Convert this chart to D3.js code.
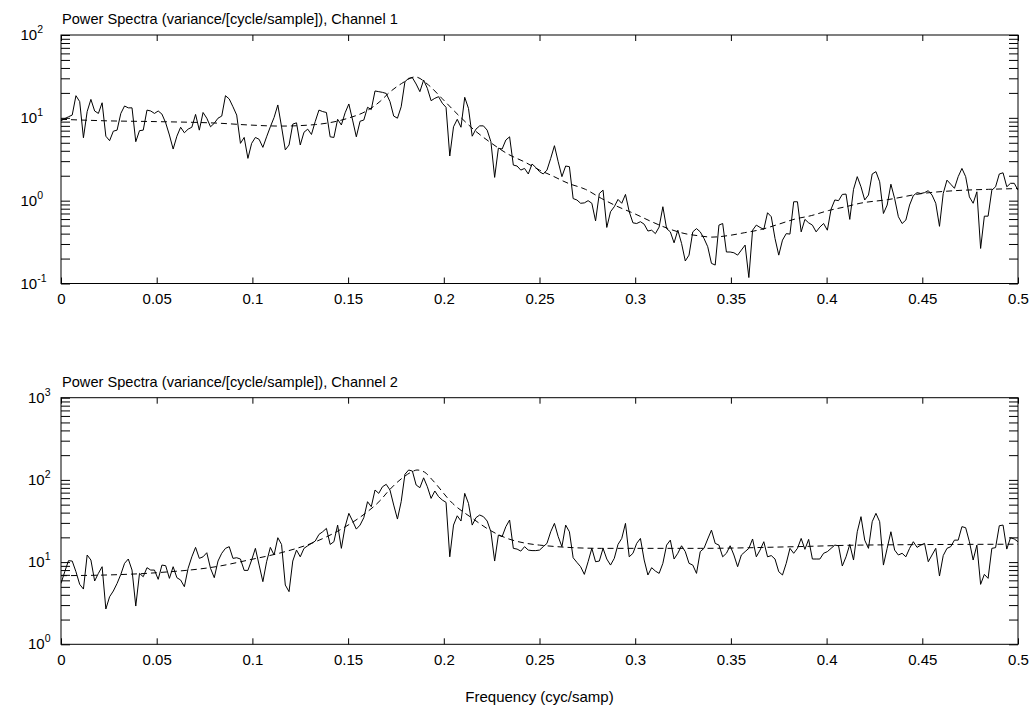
<!DOCTYPE html>
<html><head><meta charset="utf-8">
<script src="https://cdn.jsdelivr.net/npm/d3@7/dist/d3.min.js"></script>
<style>
body{margin:0;background:#fff}
text{font-family:"Liberation Sans",Arial,Helvetica,sans-serif;fill:#000}
</style>
</head><body>
<svg id="chart" width="1036" height="715"></svg>
<script>
// ---------- data ----------
const xTickValues = [0, 0.05, 0.1, 0.15, 0.2, 0.25, 0.3, 0.35, 0.4, 0.45, 0.5];
const xTickLabels = ["0", "0.05", "0.1", "0.15", "0.2", "0.25", "0.3", "0.35", "0.4", "0.45", "0.5"];
const titles = ["Power Spectra (variance/[cycle/sample]), Channel 1",
                "Power Spectra (variance/[cycle/sample]), Channel 2"];
const xLabel = "Frequency (cyc/samp)";
const yExponents1 = [-1, 0, 1, 2];
const yExponents2 = [0, 1, 2, 3];

// Channel 1 periodogram (257 bins, 0 .. 0.5 cyc/samp)
const psd1 = [
 9.23, 9.77, 10.3, 10.8, 18.5, 15.7, 5.75, 11.9, 16.7, 12.1, 11.3, 15.2, 6.0, 5.3, 6.9, 7.1, 11.3, 13.9, 13.2, 13.2,
 5.15, 7.0, 7.1, 12.4, 12.1, 11.3, 12.1, 11.1, 8.7, 6.2, 4.2, 6.0, 7.7, 6.6, 7.3, 7.7, 11.0, 7.1, 11.6, 9.9, 7.8, 8.6, 9.9,
 10.5, 18.5, 16.9, 13.6, 10.8, 4.92, 5.8, 3.24, 4.92, 5.8, 5.5, 4.4, 5.9, 7.8, 10.1, 14.3, 7.8, 4.1, 4.7, 8.4, 8.7,
 4.7, 6.7, 7.3, 6.3, 9.0, 12.4, 11.9, 11.6, 5.9, 5.8, 9.6, 8.2, 11.5, 14.7, 9.4, 5.9, 9.1, 9.4, 13.4, 12.6, 21.1, 20.7,
 20.3, 19.7, 15.7, 10.5, 9.9, 13.6, 27.3, 30.0, 30.5, 25.6, 20.7, 28.6, 22.7, 16.1, 17.2, 18.0, 15.0, 13.4, 3.46, 7.8,
 9.6, 7.7, 17.7, 13.0, 6.0, 7.3, 8.0, 8.0, 7.1, 5.15, 1.91, 4.3, 4.2, 5.4, 5.9, 2.69, 2.62, 2.34, 2.45, 2.10, 2.77, 2.52, 2.24,
 2.10, 2.34, 3.24, 4.61, 2.95, 1.95, 2.62, 2.57, 1.06, 1.02, 0.93, 0.94, 1.0, 0.93, 0.57, 1.22, 1.34, 0.475, 0.735, 0.845,
 1.035, 0.93, 1.19, 0.735, 0.54, 0.53, 0.557, 0.52, 0.43, 0.44, 0.40, 0.48, 0.845, 0.46, 0.42, 0.31, 0.44, 0.305, 0.187, 0.22, 0.42, 0.46,
 0.42, 0.35, 0.278, 0.175, 0.167, 0.507, 0.53, 0.24, 0.24, 0.235, 0.22, 0.253, 0.291, 0.118, 0.44, 0.507, 0.475, 0.45, 0.715, 0.64,
 0.35, 0.22, 0.334, 0.40, 0.395, 0.97, 0.97, 0.42, 0.594, 0.54, 0.507, 0.42, 0.48, 0.53, 0.44, 0.79, 1.02, 1.0, 1.19, 1.2, 0.594, 1.37, 1.95,
 1.47,
 1.02, 1.17, 2.10, 2.24, 1.69, 0.70, 0.885, 1.58, 1.06, 0.64, 0.53, 0.583, 0.885, 1.15, 1.25, 1.22, 1.25, 1.32, 1.17, 0.93,
 0.49, 1.22, 1.77, 1.58, 1.41, 1.95, 2.45, 1.95, 1.11, 0.93, 1.28, 0.265, 0.65, 0.65, 1.34, 1.47, 2.10, 2.17, 1.47, 1.62, 1.62, 1.34
];

// Channel 2 periodogram (257 bins)
const psd2 = [
 5.5, 7.64, 10.4, 10.3, 7.64, 5.36, 4.70, 12.2, 10.6, 5.89, 7.29, 8.79, 2.69, 3.79, 4.45, 5.5, 7.09, 9.66, 10.9, 8.0,
 2.92, 7.29, 6.64, 8.55, 8.0, 8.0, 6.17, 9.2, 9.04, 6.34, 8.79, 6.46, 6.05, 5.02, 8.39, 11.6, 15.1, 11.1, 11.6, 13.0, 8.39, 6.46, 10.3,
 12.8, 14.7, 15.4, 11.1, 11.3, 10.9, 7.93, 7.93, 10.6, 14.7, 9.2, 5.78, 10.1, 15.1, 12.2, 19.8, 16.4, 5.26, 4.37, 10.3,
 14.0, 11.6, 14.7, 15.8, 16.9, 18.0, 21.7, 23.4, 25.7, 16.4, 17.7, 28.2, 14.7, 27.0, 39.2, 31.6, 25.2, 28.2, 34.7, 54.3, 47.2, 75.3, 68.6,
 82.6, 88.3, 75.3, 49.4, 33.4, 54.3, 117, 132, 128, 86.7, 80.4, 106, 82.6, 59.6, 73.3, 62.5, 56.9, 53.3, 11.6, 28.2,
 36.6, 31.6, 68.6, 51.8, 28.2, 34.7, 37.4, 35.7, 31.6, 23.4, 10.3, 21.3, 20.4, 27.0, 32.5, 14.7, 14.4, 13.6, 15.4, 14.0, 13.8, 13.8, 14.0,
 15.4, 16.9, 23.4, 29.6, 20.4, 15.4, 28.2, 23.4, 11.3, 9.93, 8.79, 7.09, 10.1, 14.7, 10.1, 10.3, 14.7, 10.9, 9.2, 11.1,
 16.4, 19.4, 29.6, 11.6, 12.8, 16.9, 19.4, 10.6, 6.97, 8.55, 7.78, 7.29, 9.66, 16.1, 18.5, 10.9, 12.8, 15.8, 13.4, 9.66, 9.2, 7.29,
 13.4, 14.7, 19.1, 24.5, 16.9, 16.1, 11.6, 12.8, 15.8, 12.2, 8.79, 12.2, 13.4, 14.7, 19.1, 11.6, 14.0, 17.7, 11.6, 12.0,
 10.9, 7.64, 6.97, 9.66, 14.7, 12.8, 14.7, 19.4, 14.3, 18.9, 10.9, 10.9, 10.9, 12.8, 13.4, 14.7, 16.1, 15.8, 8.96, 11.6, 16.4, 10.6, 23.4,
 35.7,
 18.5, 14.7, 31.0, 39.2, 31.0, 9.2, 14.7, 23.4, 14.0, 12.2, 12.8, 11.6, 14.7, 17.7, 15.1, 16.1, 16.9, 10.1, 12.2, 14.7,
 6.77, 12.0, 14.7, 15.4, 18.5, 18.5, 27.0, 26.2, 17.7, 10.6, 16.1, 5.36, 7.09, 6.34, 14.7, 15.0, 27.7, 28.2, 14.4, 19.8, 19.1, 17.7
];

// Smooth (model) spectra, dashed
const fitFreq1 = [0, 0.024, 0.05, 0.083, 0.098, 0.115, 0.133, 0.150, 0.159, 0.167, 0.171, 0.178, 0.185, 0.192, 0.199, 0.2076,
  0.216, 0.225, 0.234, 0.242, 0.25, 0.256, 0.265, 0.274, 0.2825, 0.291, 0.30, 0.3086, 0.3173, 0.326, 0.334, 0.34, 0.349,
  0.357, 0.366, 0.375, 0.3835, 0.392, 0.401, 0.41, 0.4175, 0.432, 0.45, 0.467, 0.4845, 0.5];
const fitPsd1 = [9.6, 9.2, 9.0, 8.6, 8.2, 7.95, 8.3, 9.9, 11.9, 16.0, 19.7, 26, 31.2, 24.9, 17.2, 10.8,
  7.1, 4.92, 3.6, 2.95, 2.34, 2.03, 1.62, 1.37, 1.06, 0.845, 0.69, 0.557, 0.46, 0.40, 0.375, 0.363, 0.38,
  0.41, 0.45, 0.52, 0.60, 0.66, 0.76, 0.845, 0.93, 1.03, 1.22, 1.32, 1.37, 1.40];
const fitFreq2 = [0, 0.024, 0.05, 0.083, 0.098, 0.115, 0.133, 0.150, 0.159, 0.167, 0.171, 0.178, 0.1835, 0.186, 0.19, 0.194,
  0.2046, 0.215, 0.224, 0.234, 0.242, 0.25, 0.2825, 0.334, 0.3835, 0.4175, 0.5];
const fitPsd2 = [6.84, 6.97, 7.43, 8.96, 10.6, 13.0, 17.7, 28.2, 39.2, 56.9, 73, 104, 126, 132, 124, 100,
  51.8, 34, 24.5, 19.1, 17.1, 16.1, 14.7, 14.7, 15.4, 16.1, 16.5];

// ---------- drawing ----------
const svg = d3.select("#chart");
svg.append("rect").attr("width", 1036).attr("height", 715).attr("fill", "#fff");

const left = 61, right = 1018;
const x = d3.scaleLinear().domain([0, 0.5]).range([left, right]);

const panels = [
  {top: 35, bottom: 283.5, domain: [0.1, 100], exps: yExponents1, psd: psd1, fitF: fitFreq1, fitV: fitPsd1, title: titles[0], labelX: 20.5},
  {top: 397.7, bottom: 644.3, domain: [1, 1000], exps: yExponents2, psd: psd2, fitF: fitFreq2, fitV: fitPsd2, title: titles[1], labelX: 28}
];

const FS = 15;

panels.forEach((p, k) => {
  const y = d3.scaleLog().domain(p.domain).range([p.bottom, p.top]);
  const g = svg.append("g");

  const cid = "clip" + k;
  svg.append("clipPath").attr("id", cid).append("rect")
    .attr("x", left).attr("y", p.top).attr("width", right - left).attr("height", p.bottom - p.top);

  // axes (inward ticks)
  const xb = g.append("g").attr("transform", `translate(0,${p.bottom})`)
    .call(d3.axisBottom(x).tickValues(xTickValues).tickSizeInner(-6).tickSizeOuter(0).tickPadding(10)
      .tickFormat((d, i) => xTickLabels[i]));
  const xt = g.append("g").attr("transform", `translate(0,${p.top})`)
    .call(d3.axisTop(x).tickValues(xTickValues).tickSizeInner(-6).tickSizeOuter(0).tickFormat(""));
  const yl = g.append("g").attr("transform", `translate(${left},0)`)
    .call(d3.axisLeft(y).tickValues(y.ticks()).tickSizeInner(-9).tickSizeOuter(0).tickFormat(""));
  const yr = g.append("g").attr("transform", `translate(${right},0)`)
    .call(d3.axisRight(y).tickValues(y.ticks()).tickSizeInner(-9).tickSizeOuter(0).tickFormat(""));
  [xb, xt, yl, yr].forEach(a => {
    a.select(".domain").remove();
    a.selectAll("line").attr("stroke", "#000").attr("stroke-width", 1);
  });
  xb.selectAll("text").attr("font-size", FS).attr("font-family", '"Liberation Sans",Arial,sans-serif').attr("fill", "#000");

  // frame
  g.append("rect").attr("x", left).attr("y", p.top).attr("width", right - left).attr("height", p.bottom - p.top)
    .attr("fill", "none").attr("stroke", "#000").attr("stroke-width", 1);

  // y decade labels 10^n
  p.exps.forEach(e => {
    const t = g.append("text").attr("x", p.labelX).attr("y", y(Math.pow(10, e)) + 5)
      .attr("text-anchor", "start").attr("font-size", FS);
    t.append("tspan").text("10");
    t.append("tspan").attr("font-size", 10.5).attr("dy", -7).text(e < 0 ? "-" + Math.abs(e) : String(e));
  });

  // title
  g.append("text").attr("x", left + 1).attr("y", p.top - 11).attr("font-size", 14.6).text(p.title);

  // data lines
  const n = p.psd.length;
  const freq = p.psd.map((v, i) => i * 0.5 / (n - 1));
  const line = d3.line().x(d => x(d[0])).y(d => y(d[1]));
  g.append("path").attr("clip-path", `url(#${cid})`)
    .datum(p.psd.map((v, i) => [freq[i], v]))
    .attr("d", line).attr("fill", "none").attr("stroke", "#000").attr("stroke-width", 1)
    .attr("stroke-linejoin", "round");

  const fitLine = d3.line().x(d => x(d[0])).y(d => y(d[1])).curve(d3.curveMonotoneX);
  g.append("path").attr("clip-path", `url(#${cid})`)
    .datum(p.fitF.map((f, i) => [f, p.fitV[i]]))
    .attr("d", fitLine).attr("fill", "none").attr("stroke", "#000").attr("stroke-width", 1)
    .attr("stroke-dasharray", "6,4");
});

svg.append("text").attr("x", (left + right) / 2).attr("y", 702).attr("text-anchor", "middle")
  .attr("font-size", FS).text(xLabel);
</script>
</body></html>
